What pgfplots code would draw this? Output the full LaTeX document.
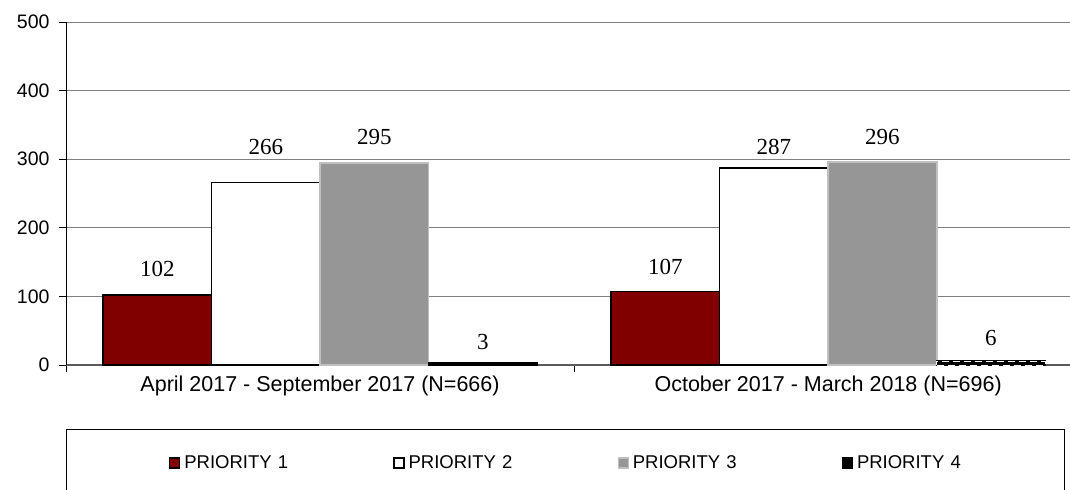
\documentclass[border=0pt]{standalone}
\usepackage{pgfplots}
\pgfplotsset{compat=1.18}
\usepackage{fontspec}
\setmainfont{Liberation Sans}
\newfontfamily\tnr{Liberation Serif}
\definecolor{p1}{HTML}{800000}
\definecolor{p3}{HTML}{969696}
\definecolor{p3b}{HTML}{C0C0C0}
\definecolor{gridc}{HTML}{808080}
\pgfplotstableread{
x y dy
0 102 14
1 107 13
}\pone
\pgfplotstableread{
x y dy
0 266 24
1 287 9
}\ptwo
\pgfplotstableread{
x y dy
0 295 14
1 296 13
}\pthree
\pgfplotstableread{
x y dy
0 3 9
}\pfoura
\pgfplotstableread{
x y dy
1 6 11
}\pfourb
\begin{document}
\begin{tikzpicture}
\path[use as bounding box] (-66bp,-125bp) rectangle (1004bp,365bp);
\begin{axis}[
  at={(0,0)}, anchor=south west,
  scale only axis, width=1004bp, height=343bp,
  xmin=-0.5, xmax=1.476, ymin=0, ymax=500,
  ytick={0,100,200,300,400,500},
  ymajorgrids, grid style={gridc, line width=0.9bp},
  axis x line*=bottom, axis y line*=left,
  x axis line style={gridc!70!black, line width=1.2bp},
  y axis line style={black, line width=1bp},
  xtick={-0.5,0.5}, xticklabels={},
  extra x ticks={0,1},
  extra x tick labels={April 2017 - September 2017 (N=666), October 2017 - March 2018 (N=696)},
  extra x tick style={major tick length=0pt, grid=none,
     tick label style={font=\fontsize{21.5bp}{24bp}\selectfont, yshift=-7bp}},
  tick align=outside, major tick length=7bp,
  tick style={black, line width=0.9bp},
  /pgf/number format/assume math mode=true,
  y tick label style={font=\fontsize{19.5bp}{22bp}\selectfont, xshift=-6bp},
  ybar, bar width=0.2136,
  clip=false,
  nodes near coords,
  visualization depends on={\thisrow{dy}\as\dy},
  every node near coord/.append style={font=\tnr\fontsize{23bp}{26bp}\selectfont, yshift=\dy bp, black},
  legend columns=4,
  legend style={at={(0.1026,-0.2857)}, anchor=west, draw=none, inner sep=0pt,
    fill=none, nodes={text width=205bp, align=left, inner xsep=4bp,
    font=\fontsize{18.5bp}{21bp}\selectfont}},
  legend image code/.code={\draw[#1, line width=1.2bp] (0bp,-5bp) rectangle (10bp,5bp);},
]
\addplot[bar shift=-0.3204, fill=p1, draw=black, line width=1.5bp] table[x=x,y=y] {\pone};
\addplot[bar shift=-0.1068, fill=white, draw=black, line width=1.5bp] table[x=x,y=y] {\ptwo};
\addplot[bar shift=0.1068, fill=p3, draw=p3b, line width=1.8bp] table[x=x,y=y] {\pthree};
\addplot[bar shift=0.3204, fill=black, draw=black, line width=1.5bp] table[x=x,y=y] {\pfoura};
\addplot[forget plot, bar shift=0.3204, fill=black, draw=black, line width=1.5bp,
   postaction={draw=white, dash pattern=on 7bp off 4bp, line width=0.7bp}] table[x=x,y=y] {\pfourb};
\legend{PRIORITY 1, PRIORITY 2, PRIORITY 3, PRIORITY 4}
\end{axis}
\draw[black, line width=1bp] (0bp,-130bp) -- (0bp,-64bp) -- (998bp,-64bp) -- (998bp,-130bp);
\end{tikzpicture}
\end{document}
